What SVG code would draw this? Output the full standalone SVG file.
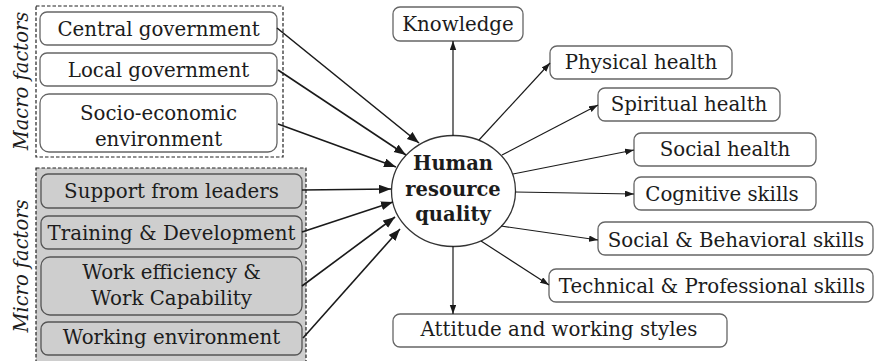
<svg xmlns="http://www.w3.org/2000/svg" width="874" height="361" viewBox="0 0 874 361">
<defs>
<marker id="ah" markerUnits="userSpaceOnUse" markerWidth="13" markerHeight="10" refX="12" refY="4.5" orient="auto"><path d="M0,0 L12,4.5 L0,9 z" fill="#1a1a1a"/></marker>
<marker id="as" markerUnits="userSpaceOnUse" markerWidth="10" markerHeight="7" refX="9" refY="3.2" orient="auto"><path d="M0,0 L9,3.2 L0,6.4 z" fill="#1a1a1a"/></marker>
</defs>
<style>
.t{font-family:"DejaVu Serif","Liberation Serif",serif;font-size:19.8px;fill:#1c1c1c;text-anchor:middle}
.b{font-weight:bold;font-size:19.5px}
.lab{font-family:"DejaVu Serif","Liberation Serif",serif;font-style:italic;font-size:19.5px;fill:#1c1c1c;text-anchor:middle}
.box{fill:#fff;stroke:#666;stroke-width:1.3}
.gbox{fill:#cecece;stroke:#555;stroke-width:1.3}
.grp{stroke:#222;stroke-width:1.2;stroke-dasharray:3.5,2}
.in{stroke:#1a1a1a;stroke-width:1.6;fill:none;marker-end:url(#ah)}
.out{stroke:#1a1a1a;stroke-width:1.2;fill:none;marker-end:url(#as)}
</style>
<rect width="874" height="361" fill="#fff"/>
<g id="macro-group">
<rect class="grp" x="36" y="6" width="247" height="151" fill="#fff"/>
<text class="lab" x="28" y="81" transform="rotate(-90 28 81)">Macro factors</text>
</g>
<g id="micro-group">
<rect class="grp" x="36" y="168" width="270" height="196" fill="#cecece"/>
<text class="lab" x="28" y="266" transform="rotate(-90 28 266)">Micro factors</text>
</g>
<g id="central-government"><rect class="box" x="40" y="12" width="237" height="33" rx="7"/><text class="t" x="158.5" y="36">Central government</text></g>
<g id="local-government"><rect class="box" x="40" y="53" width="237" height="33" rx="7"/><text class="t" x="158.5" y="77">Local government</text></g>
<g id="socio-economic"><rect class="box" x="40" y="94" width="237" height="58" rx="9"/><text class="t" x="158.5" y="120">Socio-economic</text><text class="t" x="158.5" y="146">environment</text></g>
<g id="support-leaders"><rect class="gbox" x="41" y="174" width="261" height="34" rx="7"/><text class="t" x="171.5" y="198">Support from leaders</text></g>
<g id="training"><rect class="gbox" x="41" y="216" width="261" height="33" rx="7"/><text class="t" x="171.5" y="240">Training &amp; Development</text></g>
<g id="work-efficiency"><rect class="gbox" x="41" y="257" width="261" height="58" rx="9"/><text class="t" x="171.5" y="279">Work efficiency &amp;</text><text class="t" x="171.5" y="305">Work Capability</text></g>
<g id="working-environment"><rect class="gbox" x="41" y="322" width="261" height="33" rx="7"/><text class="t" x="171.5" y="344">Working environment</text></g>
<g id="hrq"><ellipse cx="453.5" cy="191" rx="62" ry="55.5" fill="#fff" stroke="#333" stroke-width="1.3"/><text class="t b" x="453" y="170">Human</text><text class="t b" x="453" y="196">resource</text><text class="t b" x="453" y="221">quality</text></g>
<g id="knowledge"><rect class="box" x="393" y="7" width="130" height="34" rx="7"/><text class="t" x="458" y="30.5">Knowledge</text></g>
<g id="physical-health"><rect class="box" x="550" y="46" width="182" height="33" rx="7"/><text class="t" x="641" y="69">Physical health</text></g>
<g id="spiritual-health"><rect class="box" x="598" y="88" width="182" height="33" rx="7"/><text class="t" x="689" y="111">Spiritual health</text></g>
<g id="social-health"><rect class="box" x="634" y="133" width="182" height="33" rx="7"/><text class="t" x="725" y="156">Social health</text></g>
<g id="cognitive-skills"><rect class="box" x="634" y="177" width="182" height="33" rx="7"/><text class="t" x="722" y="201">Cognitive skills</text></g>
<g id="social-behavioral"><rect class="box" x="598" y="222" width="275" height="33" rx="7"/><text class="t" x="736" y="247">Social &amp; Behavioral skills</text></g>
<g id="technical-professional"><rect class="box" x="549" y="269" width="324" height="33" rx="7"/><text class="t" x="712" y="293">Technical &amp; Professional skills</text></g>
<g id="attitude"><rect class="box" x="393" y="314" width="334" height="33" rx="7"/><text class="t" x="559" y="336">Attitude and working styles</text></g>
<g id="connectors">
<line class="in" x1="277" y1="28" x2="419" y2="143"/>
<line class="in" x1="278" y1="70" x2="406" y2="155"/>
<line class="in" x1="278" y1="124" x2="396" y2="167"/>
<line class="in" x1="302" y1="190" x2="391" y2="189"/>
<line class="in" x1="302" y1="232" x2="393" y2="202"/>
<line class="in" x1="302" y1="286" x2="395" y2="217"/>
<line class="in" x1="303" y1="338" x2="400" y2="229"/>
<line class="out" x1="453" y1="136" x2="453" y2="41"/>
<line class="out" x1="479" y1="140" x2="550" y2="63"/>
<line class="out" x1="502" y1="155" x2="598" y2="105"/>
<line class="out" x1="513" y1="174" x2="634" y2="150"/>
<line class="out" x1="515" y1="192" x2="634" y2="194"/>
<line class="out" x1="501" y1="226" x2="598" y2="240"/>
<line class="out" x1="481" y1="241" x2="549" y2="285"/>
<line class="out" x1="453" y1="246" x2="453" y2="314"/>
</g>
</svg>
